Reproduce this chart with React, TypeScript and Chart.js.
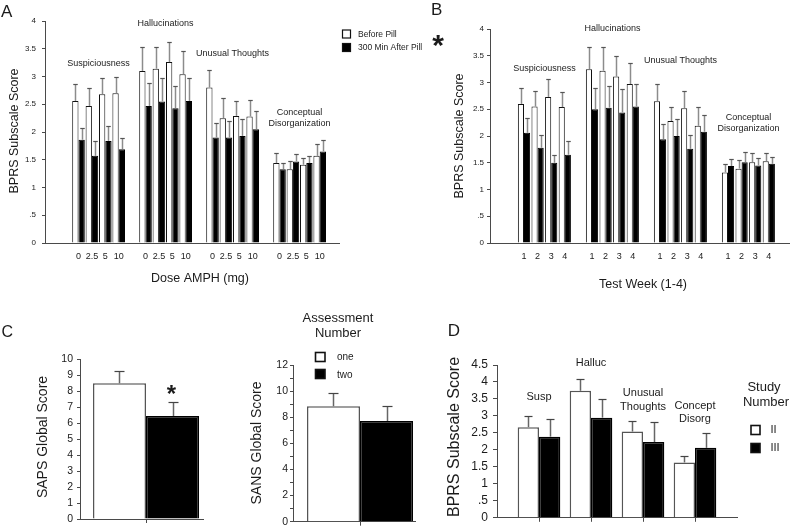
import React, { useEffect, useRef } from 'react';
import { Chart, registerables } from 'chart.js';

Chart.register(...registerables);

const FONT = '"Liberation Sans", Arial, Helvetica, sans-serif';
const INK = '#1b1b1b';
const AXIS = '#4a4a4a';

// ---------- Panels A and B (BPRS subscales) ----------
const subscaleLines = [['Suspiciousness'], ['Hallucinations'], ['Unusual Thoughts'], ['Conceptual', 'Disorganization']];
const pillLegend = ['Before Pill', '300 Min After Pill'];

// Panel A: by dose (mg)
const doseLabels = ['0', '2.5', '5', '10'];
const aBefore = [2.56, 2.47, 2.68, 2.70, 3.10, 3.14, 3.26, 3.04, 2.80, 2.25, 2.29, 2.28, 1.44, 1.33, 1.41, 1.57];
const aBeforeSem = [0.30, 0.33, 0.29, 0.29, 0.44, 0.40, 0.37, 0.42, 0.32, 0.36, 0.27, 0.30, 0.18, 0.14, 0.13, 0.21];
const aAfter = [1.86, 1.57, 1.84, 1.69, 2.47, 2.55, 2.43, 2.56, 1.90, 1.90, 1.93, 2.05, 1.33, 1.47, 1.44, 1.65];
const aAfterSem = [0.22, 0.27, 0.26, 0.20, 0.42, 0.42, 0.40, 0.41, 0.27, 0.30, 0.30, 0.33, 0.12, 0.13, 0.13, 0.21];
const aLabelY = [3.24, 3.95, 3.41, 2.36];

// Panel B: by test week
const weekLabels = ['1', '2', '3', '4'];
const bBefore = [2.60, 2.55, 2.73, 2.54, 3.25, 3.22, 3.11, 2.97, 2.65, 2.28, 2.52, 2.19, 1.32, 1.39, 1.51, 1.53];
const bBeforeSem = [0.30, 0.30, 0.34, 0.28, 0.41, 0.45, 0.39, 0.40, 0.32, 0.27, 0.33, 0.35, 0.15, 0.17, 0.17, 0.16];
const bAfter = [2.06, 1.78, 1.50, 1.65, 2.50, 2.53, 2.44, 2.55, 1.94, 2.00, 1.76, 2.08, 1.44, 1.51, 1.45, 1.48];
const bAfterSem = [0.28, 0.23, 0.15, 0.26, 0.39, 0.41, 0.44, 0.42, 0.28, 0.31, 0.26, 0.31, 0.13, 0.20, 0.14, 0.12];
const bLabelY = [3.27, 4.01, 3.42, 2.35];

// ---------- Panel C ----------
const assessmentLabels = ['one', 'two'];
const sapsMeans = [8.48, 6.44];
const sapsSem = [0.77, 0.85];
const sansMeans = [8.84, 7.71];
const sansSem = [1.01, 1.13];

// ---------- Panel D ----------
const dCategoryLines = [['Susp'], ['Halluc'], ['Unusual', 'Thoughts'], ['Concept', 'Disorg']];
const studyLabels = ['II', 'III'];
const studyII = [2.67, 3.74, 2.54, 1.63];
const studyIISem = [0.33, 0.36, 0.30, 0.19];
const studyIII = [2.39, 2.95, 2.23, 2.06];
const studyIIISem = [0.52, 0.55, 0.58, 0.43];
const dLabelY = [3.56, 4.56, 3.67, 3.30];

// ---------- helpers ----------
const LEAD = 2;
function spread<T>(vals: T[], per: number, empty: T): T[] {
  const out: T[] = Array(LEAD).fill(empty);
  for (let g = 0; g * per < vals.length; g++) {
    if (g > 0) out.push(empty);
    out.push(...vals.slice(g * per, g * per + per));
  }
  out.push(empty);
  return out;
}
const groupCenter = (g: number, per: number) => LEAD + g * (per + 1) + (per - 1) / 2;

const f = (size: number, weight = 'normal') => `${weight} ${size}px ${FONT}`;

function txt(ctx: any, s: string, x: number, y: number, font: string, o: any = {}) {
  ctx.save();
  ctx.font = font;
  ctx.fillStyle = o.color || INK;
  ctx.textAlign = o.align || 'center';
  ctx.textBaseline = o.baseline || 'middle';
  ctx.translate(x, y);
  if (o.rotate) ctx.rotate(-Math.PI / 2);
  ctx.fillText(s, 0, 0);
  ctx.restore();
}

function box(ctx: any, x: number, y: number, w: number, h: number, fill: string, lw: number) {
  ctx.save();
  ctx.fillStyle = fill;
  ctx.fillRect(x, y, w, h);
  ctx.strokeStyle = '#111';
  ctx.lineWidth = lw;
  ctx.strokeRect(x, y, w, h);
  ctx.restore();
}

function makeErrorBars(style: { line: string; cap: string; lw: number; capW: number }) {
  return {
    id: 'errorBars',
    afterDatasetsDraw(chart: any) {
      const ctx = chart.ctx;
      const ys = chart.scales.y;
      chart.data.datasets.forEach((ds: any, di: number) => {
        const meta = chart.getDatasetMeta(di);
        if (!ds.errors) return;
        meta.data.forEach((bar: any, i: number) => {
          const raw = ds.data[i];
          const v = raw == null ? null : typeof raw === 'number' ? raw : raw.y;
          const e = ds.errors[i];
          if (v == null || e == null) return;
          const x = Math.round(bar.x) + 0.5;
          const y0 = ys.getPixelForValue(v);
          const y1 = Math.round(ys.getPixelForValue(v + e)) + 0.5;
          ctx.save();
          ctx.strokeStyle = style.line;
          ctx.lineWidth = style.lw;
          ctx.beginPath();
          ctx.moveTo(x, y0);
          ctx.lineTo(x, y1);
          ctx.stroke();
          ctx.strokeStyle = style.cap;
          ctx.lineWidth = 1.2;
          ctx.beginPath();
          ctx.moveTo(x - style.capW / 2, y1);
          ctx.lineTo(x + style.capW / 2, y1);
          ctx.stroke();
          ctx.restore();
        });
      });
    },
  };
}

const fmtHalf = (v: number) => (v === 0.5 ? '.5' : String(v));

function yAxis(o: { max: number; step: number; tick: number; pad: number; size: number; width: number; cb?: any }) {
  return {
    min: 0,
    max: o.max,
    ticks: {
      stepSize: o.step,
      maxTicksLimit: 100,
      autoSkip: false,
      padding: o.pad,
      color: INK,
      font: { family: FONT, size: o.size },
      callback: o.cb || ((v: number) => String(v)),
    },
    grid: { display: true, drawOnChartArea: false, drawTicks: true, tickLength: o.tick, color: AXIS },
    border: { display: true, color: AXIS, width: 1 },
    afterFit: (s: any) => {
      s.width = o.width;
    },
  };
}

function xLinear(min: number, max: number, tickVals: number[], height: number) {
  return {
    type: 'linear',
    min,
    max,
    offset: false,
    grid: { display: true, drawOnChartArea: false, drawTicks: true, tickLength: 4, color: AXIS, offset: false },
    border: { display: true, color: AXIS, width: 1 },
    ticks: { display: false },
    afterBuildTicks: (s: any) => {
      s.ticks = tickVals.map((v) => ({ value: v }));
    },
    afterFit: (s: any) => {
      s.height = height;
    },
  };
}

const baseOptions = (padding: any) => ({
  responsive: false,
  maintainAspectRatio: false,
  animation: false,
  devicePixelRatio: 1,
  layout: { padding },
  font: { family: FONT },
  plugins: { legend: { display: false }, tooltip: { enabled: false }, title: { display: false } },
});

// ---------- A / B builder ----------
function buildSubscale(opts: {
  tickLabels: string[];
  before: number[];
  beforeSem: number[];
  after: number[];
  afterSem: number[];
  catPct: number;
  padding: any;
  yWidth: number;
  yPad: number;
  labelY: number[];
  annotate: (ctx: any, chart: any) => void;
}) {
  const per = opts.tickLabels.length;
  const groups = opts.before.length / per;
  const flatLabels: string[] = [];
  for (let g = 0; g < groups; g++) flatLabels.push(...opts.tickLabels);
  const labels = spread(flatLabels, per, '');
  return {
    type: 'bar',
    data: {
      labels,
      datasets: [
        {
          label: pillLegend[0],
          data: spread<number | null>(opts.before, per, null),
          errors: spread<number | null>(opts.beforeSem, per, null),
          backgroundColor: '#ffffff',
          borderColor: '#111',
          borderWidth: 1,
          categoryPercentage: opts.catPct,
          barPercentage: 1,
        },
        {
          label: pillLegend[1],
          data: spread<number | null>(opts.after, per, null),
          errors: spread<number | null>(opts.afterSem, per, null),
          backgroundColor: '#000000',
          borderColor: '#000',
          borderWidth: 1,
          categoryPercentage: opts.catPct,
          barPercentage: 1,
        },
      ],
    },
    options: {
      ...baseOptions(opts.padding),
      scales: {
        x: {
          type: 'category',
          offset: true,
          grid: { display: false, drawTicks: false },
          border: { display: true, color: AXIS, width: 1 },
          ticks: { autoSkip: false, maxRotation: 0, minRotation: 0, padding: 8, color: INK, font: { family: FONT, size: 9 } },
          afterFit: (s: any) => {
            s.height = 57;
          },
        },
        y: yAxis({ max: 4, step: 0.5, tick: 3, pad: opts.yPad, size: 8, width: opts.yWidth, cb: fmtHalf }),
      },
    },
    plugins: [
      makeErrorBars({ line: '#8c8c8c', cap: '#555', lw: 1.5, capW: 4.5 }),
      {
        id: 'annot',
        afterDraw(chart: any) {
          const ctx = chart.ctx;
          const xs = chart.scales.x;
          const ys = chart.scales.y;
          subscaleLines.forEach((lines, g) => {
            const cx = xs.getPixelForValue(groupCenter(g, per));
            const cy = ys.getPixelForValue(opts.labelY[g]);
            lines.forEach((ln, k) => txt(ctx, ln, cx, cy + k * 11, f(9)));
          });
          opts.annotate(ctx, chart);
        },
      },
    ],
  };
}

function buildA() {
  return buildSubscale({
    tickLabels: doseLabels,
    before: aBefore,
    beforeSem: aBeforeSem,
    after: aAfter,
    afterSem: aAfterSem,
    catPct: 0.94,
    padding: { left: 0, top: 21, right: 430 - 339.8, bottom: 0 },
    yWidth: 45,
    yPad: 6,
    labelY: aLabelY,
    annotate: (ctx, chart) => {
      txt(ctx, 'A', 1, 16.5, f(17), { align: 'left', baseline: 'alphabetic' });
      txt(ctx, 'BPRS Subscale Score', 15, 131, f(12.5), { rotate: true });
      txt(ctx, 'Dose AMPH (mg)', 200, 279, f(12.5));
      const ds = chart.data.datasets;
      box(ctx, 342.5, 30, 8, 8, '#fff', 1.2);
      box(ctx, 342.5, 43.5, 8, 8, '#000', 1.2);
      txt(ctx, ds[0].label, 358, 34.5, f(8.5), { align: 'left' });
      txt(ctx, ds[1].label, 358, 48, f(8.5), { align: 'left' });
    },
  });
}

function buildB() {
  return buildSubscale({
    tickLabels: weekLabels,
    before: bBefore,
    beforeSem: bBeforeSem,
    after: bAfter,
    afterSem: bAfterSem,
    catPct: 0.9,
    padding: { left: 0, top: 29, right: 371 - 364.2, bottom: 0 },
    yWidth: 65,
    yPad: 3,
    labelY: bLabelY,
    annotate: (ctx) => {
      txt(ctx, 'B', 6, 15, f(17), { align: 'left', baseline: 'alphabetic' });
      txt(ctx, '*', 13, 55, f(30, 'bold'), { baseline: 'alphabetic' });
      txt(ctx, 'BPRS Subscale Score', 35, 136, f(12.5), { rotate: true });
      txt(ctx, 'Test Week (1-4)', 218, 285, f(12.5));
    },
  });
}

// ---------- C builders ----------
function buildGlobal(opts: {
  means: number[];
  sems: number[];
  max: number;
  step: number;
  cb?: any;
  xmin: number;
  xmax: number;
  catPct: number;
  padding: any;
  yWidth: number;
  yPad: number;
  xHeight: number;
  annotate: (ctx: any, chart: any) => void;
}) {
  const fills = ['#ffffff', '#000000'];
  return {
    type: 'bar',
    data: {
      datasets: assessmentLabels.map((lab, i) => ({
        label: lab,
        data: [{ x: 0, y: opts.means[i] }],
        errors: [opts.sems[i]],
        backgroundColor: fills[i],
        borderColor: i === 0 ? '#555' : '#000',
        borderWidth: 1.5,
        categoryPercentage: opts.catPct,
        barPercentage: 1,
      })),
    },
    options: {
      ...baseOptions(opts.padding),
      scales: {
        x: xLinear(opts.xmin, opts.xmax, [0], opts.xHeight),
        y: yAxis({ max: opts.max, step: opts.step, tick: 3, pad: opts.yPad, size: 10.5, width: opts.yWidth, cb: opts.cb }),
      },
    },
    plugins: [
      makeErrorBars({ line: '#666', cap: '#444', lw: 1.5, capW: 10 }),
      {
        id: 'annot',
        afterDraw(chart: any) {
          opts.annotate(chart.ctx, chart);
        },
      },
    ],
  };
}

function buildCLeft() {
  return buildGlobal({
    means: sapsMeans,
    sems: sapsSem,
    max: 10,
    step: 1,
    xmin: -66 / 123,
    xmax: 57 / 123,
    catPct: 0.862,
    padding: { left: 0, top: 59, right: 37, bottom: 0 },
    yWidth: 80,
    yPad: 4,
    xHeight: 11,
    annotate: (ctx, chart) => {
      txt(ctx, 'C', 1.5, 37, f(16), { align: 'left', baseline: 'alphabetic' });
      txt(ctx, 'SAPS Global Score', 43.5, 137, f(14), { rotate: true });
      const meta = chart.getDatasetMeta(1);
      const bar = meta.data[0];
      const ys = chart.scales.y;
      const top = ys.getPixelForValue(sapsMeans[1] + sapsSem[1]);
      txt(ctx, '*', bar.x - 1, top, f(24, 'bold'), { baseline: 'alphabetic' });
    },
  });
}

function buildCRight() {
  return buildGlobal({
    means: sansMeans,
    sems: sansSem,
    max: 12,
    step: 1,
    cb: (v: number) => (v % 2 === 0 ? String(v) : ''),
    xmin: -67 / 122,
    xmax: 55 / 122,
    catPct: 0.869,
    padding: { left: 0, top: 65, right: 25, bottom: 0 },
    yWidth: 53,
    yPad: 2,
    xHeight: 7,
    annotate: (ctx, chart) => {
      txt(ctx, 'SANS Global Score', 16.7, 143, f(14), { rotate: true });
      txt(ctx, 'Assessment', 98, 18.5, f(13));
      txt(ctx, 'Number', 98, 33.5, f(13));
      box(ctx, 75.5, 52.5, 9.5, 9, '#fff', 1.6);
      box(ctx, 75.5, 69.5, 9.5, 9, '#000', 1.6);
      const ds = chart.data.datasets;
      txt(ctx, ds[0].label, 97, 57, f(10), { align: 'left' });
      txt(ctx, ds[1].label, 97, 75, f(10), { align: 'left' });
    },
  });
}

// ---------- D builder ----------
function buildD() {
  const idx = dCategoryLines.map((_, i) => i);
  const mk = (label: string, vals: number[], sems: number[], fill: string, border: string) => ({
    label,
    data: vals.map((v, i) => ({ x: idx[i], y: v })),
    errors: sems,
    backgroundColor: fill,
    borderColor: border,
    borderWidth: 1.5,
    categoryPercentage: 0.82,
    barPercentage: 1,
  });
  return {
    type: 'bar',
    data: {
      datasets: [
        mk(studyLabels[0], studyII, studyIISem, '#ffffff', '#555'),
        mk(studyLabels[1], studyIII, studyIIISem, '#000000', '#000'),
      ],
    },
    options: {
      ...baseOptions({ left: 0, top: 65, right: 59, bottom: 0 }),
      scales: {
        x: xLinear(-42 / 52, 3 + 42 / 52, idx, 7),
        y: yAxis({ max: 4.5, step: 0.5, tick: 4, pad: 5, size: 12, width: 57, cb: fmtHalf }),
      },
    },
    plugins: [
      makeErrorBars({ line: '#666', cap: '#444', lw: 1.5, capW: 8 }),
      {
        id: 'annot',
        afterDraw(chart: any) {
          const ctx = chart.ctx;
          const xs = chart.scales.x;
          const ys = chart.scales.y;
          dCategoryLines.forEach((lines, i) => {
            const cx = xs.getPixelForValue(idx[i]);
            const cy = ys.getPixelForValue(dLabelY[i]);
            lines.forEach((ln, k) => txt(ctx, ln, cx, cy + k * 13.3, f(11)));
          });
          txt(ctx, 'D', 7.7, 36, f(17), { align: 'left', baseline: 'alphabetic' });
          txt(ctx, 'BPRS Subscale Score', 15, 137, f(16), { rotate: true });
          txt(ctx, 'Study', 324, 87, f(13));
          txt(ctx, 'Number', 326, 102, f(13));
          box(ctx, 311, 125.5, 9, 9, '#fff', 1.6);
          box(ctx, 311, 143.5, 9, 9, '#000', 1.6);
          const ds = chart.data.datasets;
          txt(ctx, ds[0].label, 330.5, 130, f(11), { align: 'left' });
          txt(ctx, ds[1].label, 330.5, 148, f(11), { align: 'left' });
        },
      },
    ],
  };
}

function Panel({ left, top, width, height, build }: { left: number; top: number; width: number; height: number; build: () => any }) {
  const ref = useRef<HTMLCanvasElement>(null);
  useEffect(() => {
    const chart = new Chart(ref.current as HTMLCanvasElement, build());
    return () => chart.destroy();
  }, []);
  return (
    <canvas
      ref={ref}
      width={width}
      height={height}
      style={{ position: 'absolute', left, top, width, height, display: 'block' }}
    />
  );
}

export default function App() {
  return (
    <div style={{ position: 'absolute', left: 0, top: 0, width: 796, height: 530, background: '#fff', overflow: 'hidden' }}>
      <Panel left={0} top={0} width={430} height={300} build={buildA} />
      <Panel left={425} top={0} width={371} height={300} build={buildB} />
      <Panel left={0} top={300} width={240} height={230} build={buildCLeft} />
      <Panel left={240} top={300} width={200} height={230} build={buildCRight} />
      <Panel left={440} top={300} width={356} height={230} build={buildD} />
    </div>
  );
}
